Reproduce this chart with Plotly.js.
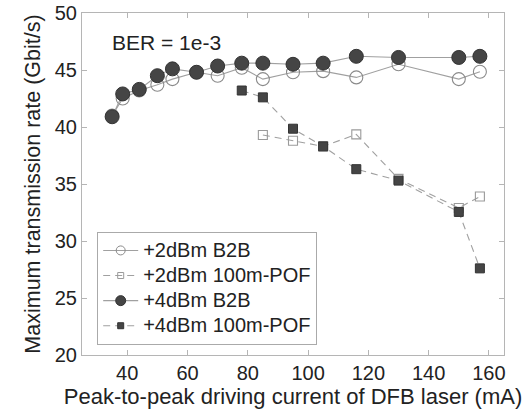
<!DOCTYPE html>
<html>
<head>
<meta charset="utf-8">
<script src="https://cdn.plot.ly/plotly-3.0.1.min.js"></script>
<style>html,body{margin:0;padding:0;background:#fff;}#chart{width:529px;height:418px;}</style>
</head>
<body>
<div id="chart"></div>
<script>
// Data
const xB2B = [35, 38.5, 44, 50, 55, 63, 70, 78, 85, 95, 105, 116, 130, 150, 157];
const y2dBmB2B = [41.0, 42.5, 43.2, 43.7, 44.2, 44.8, 44.5, 45.2, 44.2, 44.8, 44.9, 44.35, 45.5, 44.2, 44.85];
const y4dBmB2B = [40.9, 42.9, 43.3, 44.5, 45.1, 44.8, 45.35, 45.6, 45.6, 45.5, 45.6, 46.2, 46.1, 46.1, 46.2];
const x2dBmPOF = [85, 95, 105, 116, 130, 150, 157];
const y2dBmPOF = [39.3, 38.8, 38.3, 39.35, 35.45, 32.9, 33.9];
const x4dBmPOF = [78, 85, 95, 105, 116, 130, 150, 157];
const y4dBmPOF = [43.2, 42.6, 39.85, 38.3, 36.3, 35.3, 32.55, 27.6];
const seriesNames = ['+2dBm B2B', '+2dBm 100m-POF', '+4dBm B2B', '+4dBm 100m-POF'];
const xTicks = [40, 60, 80, 100, 120, 140, 160];
const yTicks = [20, 25, 30, 35, 40, 45, 50];

const lineGray = '#a0a0a0';
const dark = '#454545';
const font = 'Liberation Sans, Arial, sans-serif';

const styles = [
  {line: {color: lineGray, width: 1.1},
   marker: {symbol: 'circle-open', size: 13, color: '#8a8a8a', line: {width: 1.1}},
   legendMarker: {symbol: 'circle-open', size: 9, color: '#8a8a8a', line: {width: 1}}},
  {line: {color: lineGray, width: 1.1, dash: '7px,5px'},
   marker: {symbol: 'square-open', size: 9, color: '#9a9a9a', line: {width: 1.1}},
   legendMarker: {symbol: 'square-open', size: 6, color: '#9a9a9a', line: {width: 1}}},
  {line: {color: lineGray, width: 1.1},
   marker: {symbol: 'circle', size: 14, color: dark, line: {color: '#333', width: 1}},
   legendMarker: {symbol: 'circle', size: 10, color: dark, line: {color: '#333', width: 1}}},
  {line: {color: lineGray, width: 1.1, dash: '7px,5px'},
   marker: {symbol: 'square', size: 9, color: dark, line: {color: '#333', width: 1}},
   legendMarker: {symbol: 'square', size: 6, color: dark, line: {color: '#333', width: 1}}}
];
const xs = [xB2B, x2dBmPOF, xB2B, x4dBmPOF];
const ys = [y2dBmB2B, y2dBmPOF, y4dBmB2B, y4dBmPOF];

const traces = [];
for (let i = 0; i < 4; i++) {
  traces.push({x: xs[i], y: ys[i], name: seriesNames[i], mode: 'lines+markers',
    line: styles[i].line, marker: styles[i].marker, showlegend: false});
}
// legend entries with smaller symbols (no data drawn)
for (let i = 0; i < 4; i++) {
  traces.push({x: [null], y: [null], name: '<span style="font-size:20px">' + seriesNames[i] + '</span>',
    mode: 'lines+markers', line: styles[i].line, marker: styles[i].legendMarker, showlegend: true});
}

const axisCommon = {
  showgrid: false, zeroline: false, showline: true, mirror: 'ticks',
  linecolor: '#b5b5b5', linewidth: 1, ticks: 'inside', ticklen: 5,
  tickcolor: '#b5b5b5', tickfont: {family: font, size: 20, color: '#222'}
};

const layout = {
  width: 529, height: 418,
  margin: {l: 82, r: 25, t: 13, b: 63},
  paper_bgcolor: '#fff', plot_bgcolor: '#fff',
  font: {family: font, color: '#222'},
  showlegend: true,
  xaxis: Object.assign({}, axisCommon, {
    range: [25, 165], tickvals: xTicks, ticktext: xTicks.map(String),
    title: {text: 'Peak-to-peak driving current of DFB laser (mA)', font: {family: font, size: 22, color: '#222'}, standoff: 4}
  }),
  yaxis: Object.assign({}, axisCommon, {
    range: [20, 50], tickvals: yTicks, ticktext: yTicks.map(String),
    title: {text: 'Maximum transmission rate (Gbit/s)', font: {family: font, size: 21.5, color: '#222'}, standoff: 8}
  }),
  legend: {
    x: 0.036, y: 0.36, xanchor: 'left', yanchor: 'top',
    bgcolor: '#fff', bordercolor: '#aaa', borderwidth: 1,
    font: {family: font, size: 17, color: '#222'},
    itemwidth: 35, tracegroupgap: 0
  },
  annotations: [{
    text: 'BER = 1e-3', xref: 'paper', yref: 'paper', x: 0.066, y: 0.915,
    xanchor: 'left', yanchor: 'middle', showarrow: false,
    font: {family: font, size: 21, color: '#222'}
  }]
};

Plotly.newPlot('chart', traces, layout, {displayModeBar: false, staticPlot: true});
</script>
</body>
</html>
